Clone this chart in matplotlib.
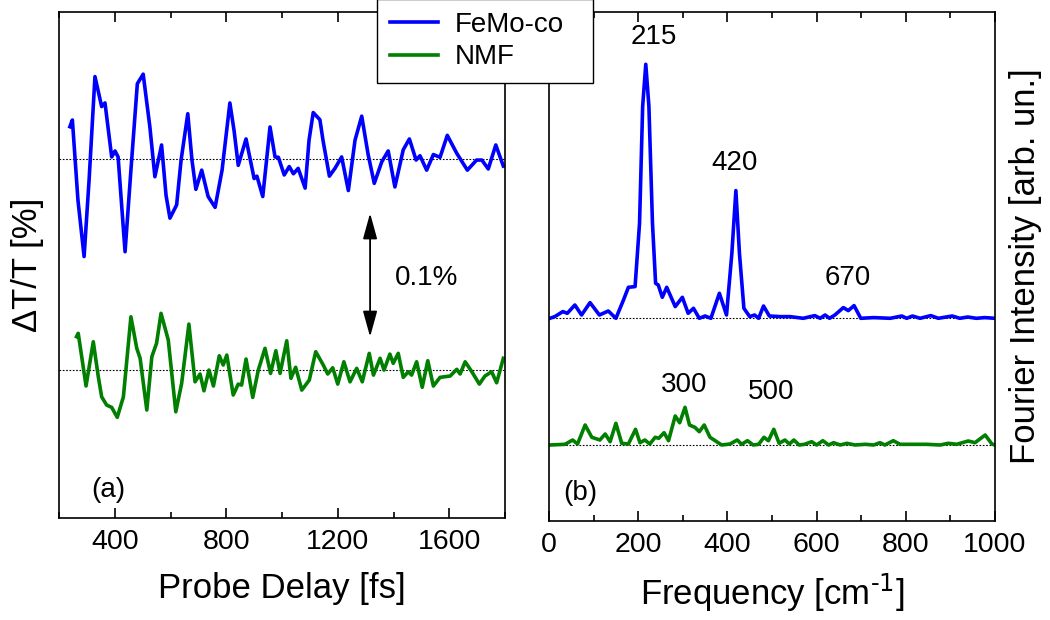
import matplotlib
matplotlib.use("Agg")
import matplotlib.pyplot as plt
from matplotlib.ticker import MultipleLocator, NullLocator

plt.rcParams['font.family'] = ['Liberation Sans', 'DejaVu Sans']
plt.rcParams['mathtext.default'] = 'regular'

# ---------------- data: time domain (fs, % dT/T) ----------------
delay_femoco = [239, 248, 268, 290, 308, 329, 353, 365, 389, 401, 412, 437, 458, 481, 502,
                526, 544, 568, 584, 598, 622, 638, 662, 677, 691, 712, 735, 760, 785, 813,
                828, 843, 871, 900, 910, 931, 957, 975, 987, 1008, 1026, 1041, 1058, 1083,
                1097, 1112, 1136, 1147, 1170, 1190, 1214, 1238, 1262, 1286, 1309, 1331,
                1358, 1381, 1405, 1435, 1457, 1481, 1495, 1519, 1543, 1567, 1593, 1627,
                1665, 1698, 1717, 1740, 1767, 1794]
dT_femoco = [0.0272, 0.0328, -0.034, -0.081, -0.017, 0.069, 0.044, 0.047, 0.002, 0.007,
             0.002, -0.077, -0.009, 0.063, 0.071, 0.027, -0.0145, 0.012, -0.030, -0.049,
             -0.038, -0.0006, 0.038, -0.0006, -0.025, -0.009, -0.031, -0.040, -0.009,
             0.047, 0.024, -0.005, 0.017, -0.016, -0.014, -0.031, 0.027, 0.002, 0.0017,
             -0.013, -0.006, -0.012, -0.0075, -0.024, 0.016, 0.039, 0.033, 0.016, -0.014,
             -0.0075, 0.002, -0.026, 0.016, 0.036, 0.004, -0.020, -0.002, 0.007, -0.023,
             0.008, 0.017, -0.0006, 0.003, -0.009, 0.004, 0.0017, 0.020, 0.005, -0.009,
             -0.0006, -0.0006, -0.008, 0.012, -0.0056]

delay_nmf = [263, 269, 297, 323, 341, 353, 371, 389, 409, 431, 458, 479, 491, 515, 533,
             550, 566, 592, 619, 640, 666, 688, 706, 720, 738, 754, 775, 789, 802, 825,
             843, 855, 871, 895, 915, 939, 959, 978, 993, 1017, 1032, 1049, 1071, 1098,
             1121, 1148, 1164, 1182, 1200, 1222, 1244, 1268, 1288, 1313, 1328, 1352, 1366,
             1387, 1399, 1417, 1435, 1453, 1465, 1483, 1503, 1523, 1543, 1567, 1603, 1627,
             1639, 1657, 1681, 1708, 1728, 1752, 1770, 1794]
dT_nmf = [0.0278, 0.0306, -0.0133, 0.0236, -0.0056, -0.0223, -0.0292, -0.0311, -0.0394,
          -0.0223, 0.0444, 0.0181, 0.0098, -0.0333, 0.0111, 0.0223, 0.0473, 0.025, -0.0348,
          -0.0111, 0.0383, -0.0098, -0.0033, -0.0173, 0.0, -0.0133, 0.0119, 0.0042, 0.0125,
          -0.0208, -0.0117, -0.0125, 0.0092, -0.0228, 0.0, 0.0181, -0.0028, 0.0161, -0.0028,
          0.0244, -0.0069, 0.0023, -0.0167, -0.0083, 0.0153, 0.0042, -0.0033, 0.0019,
          -0.0117, 0.0069, -0.0098, 0.0014, -0.0098, 0.0139, -0.0042, 0.0098, 0.0, 0.0133,
          0.0056, 0.0139, -0.0061, -0.0014, -0.0042, 0.0069, -0.0144, 0.0078, -0.0133,
          -0.0061, -0.005, 0.0006, -0.0033, 0.0069, -0.0014, -0.0117, -0.005, -0.0014,
          -0.0106, 0.0098]

# ---------------- data: Fourier spectra (cm^-1, arb. un.) ----------------
freq_femoco = [2, 13, 31, 41, 58, 73, 92, 113, 133, 150, 167, 178, 193, 203, 210, 217, 224,
               232, 239, 245, 254, 264, 283, 299, 312, 324, 337, 350, 363, 382, 398, 410,
               419, 427, 437, 450, 461, 470, 481, 494, 518, 540, 570, 596, 608, 619, 629,
               641, 660, 671, 684, 699, 728, 765, 791, 802, 815, 832, 856, 873, 904, 921,
               939, 958, 977, 1000]
amp_femoco = [0, 0.017, 0.067, 0.05, 0.133, 0.033, 0.157, 0.033, 0.073, 0, 0.183, 0.31,
              0.317, 0.95, 2.12, 2.54, 2.12, 0.95, 0.35, 0.333, 0.21, 0.31, 0.117, 0.21,
              0.05, 0.1, 0, 0.023, 0, 0.25, 0.033, 0.65, 1.277, 0.65, 0.1, 0.017, 0.033,
              0, 0.123, 0.023, 0.017, 0.017, 0, 0.027, 0, 0.033, 0, 0.033, 0.107, 0.077,
              0.127, 0, 0.007, 0, 0.023, 0, 0.023, 0, 0.027, 0, 0.023, 0, 0.013, 0,
              0.007, 0]

freq_nmf = [2, 36, 53, 64, 81, 96, 114, 126, 137, 150, 163, 178, 194, 204, 215, 226, 238,
            246, 258, 268, 283, 293, 305, 315, 327, 337, 348, 361, 376, 387, 406, 422, 432,
            445, 458, 470, 482, 492, 504, 516, 529, 539, 549, 561, 573, 589, 600, 614, 627,
            638, 653, 668, 686, 709, 728, 742, 753, 772, 787, 817, 847, 877, 895, 914, 940,
            955, 978, 993, 1000]
amp_nmf = [0, 0.007, 0.05, 0.01, 0.2, 0.077, 0.05, 0.11, 0.033, 0.217, 0.017, 0.01, 0.157,
           0.023, 0.05, 0.01, 0.077, 0.067, 0.123, 0.043, 0.29, 0.223, 0.377, 0.2, 0.177,
           0.133, 0.2, 0.077, 0.033, 0, 0.01, 0.05, 0.007, 0.043, 0, 0.007, 0.077, 0.043,
           0.157, 0.017, 0.05, 0.01, 0.05, 0, 0.007, 0.033, 0, 0.043, 0, 0.023, 0, 0.017,
           0, 0.007, 0, 0.023, 0, 0.043, 0.007, 0.007, 0.007, 0, 0.017, 0.007, 0.04,
           0.023, 0.1, 0.01, 0]

peak_labels = ['215', '420', '670', '300', '500']
peak_label_x = [235, 417, 670, 302, 499]
peak_label_y = [4.84, 3.58, 2.43, 1.36, 1.29]

series_names = ['FeMo-co', 'NMF']

# ---------------- styling / layout ----------------
BLUE = '#0000ff'
GREEN = '#007f00'
LW = 2.6
off_t_blue, off_t_green = 0.2989, 0.1233
off_f_blue, off_f_green = 2.027, 0.76

fig = plt.figure(figsize=(10.5, 6.2), dpi=100)
ax1 = fig.add_axes([59/1050, 102/620, 446/1050, 506/620])
ax2 = fig.add_axes([549/1050, 99/620, 446/1050, 509/620])

# ---- panel (a)
ax1.plot(delay_femoco, [v + off_t_blue for v in dT_femoco], color=BLUE, lw=LW,
         solid_joinstyle='round', label=series_names[0])
ax1.plot(delay_nmf, [v + off_t_green for v in dT_nmf], color=GREEN, lw=LW,
         solid_joinstyle='round', label=series_names[1])
ax1.axhline(off_t_blue, color='black', lw=0.8, ls=(0, (1.5, 1.5)), zorder=0)
ax1.axhline(off_t_green, color='black', lw=0.8, ls=(0, (1.5, 1.5)), zorder=0)
ax1.set_xlim(200, 1800)
ax1.set_ylim(0, 0.4217)
ax1.xaxis.set_major_locator(MultipleLocator(400))
ax1.xaxis.set_minor_locator(MultipleLocator(200))
ax1.yaxis.set_major_locator(NullLocator())
ax1.set_xlabel('Probe Delay [fs]', fontsize=25, labelpad=12)
ax1.set_ylabel('ΔT/T [%]', fontsize=25, labelpad=11)
ax1.annotate('', xy=(1316, 0.254), xytext=(1316, 0.151),
             arrowprops=dict(arrowstyle='<|-|>,head_length=1.05,head_width=0.29',
                             mutation_scale=15, color='black', lw=1.3,
                             shrinkA=0, shrinkB=0))
ax1.text(1405, 0.2, '0.1%', fontsize=20, va='center', ha='left')
ax1.text(0.11, 0.055, '(a)', transform=ax1.transAxes, fontsize=20, ha='center', va='center')

# ---- panel (b)
ax2.plot(freq_femoco, [v + off_f_blue for v in amp_femoco], color=BLUE, lw=LW,
         solid_joinstyle='round')
ax2.plot(freq_nmf, [v + off_f_green for v in amp_nmf], color=GREEN, lw=LW,
         solid_joinstyle='round')
ax2.axhline(off_f_blue, color='black', lw=0.8, ls=(0, (1.5, 1.5)), zorder=0)
ax2.axhline(off_f_green, color='black', lw=0.8, ls=(0, (1.5, 1.5)), zorder=0)
ax2.set_xlim(0, 1000)
ax2.set_ylim(0, 5.09)
ax2.xaxis.set_major_locator(MultipleLocator(200))
ax2.xaxis.set_minor_locator(MultipleLocator(100))
ax2.yaxis.set_major_locator(NullLocator())
ax2.set_xlabel(r'Frequency [cm$^{\text{-1}}$]', fontsize=25, labelpad=10)
ax2.yaxis.set_label_position('right')
ax2.set_ylabel('Fourier Intensity [arb. un.]', fontsize=25, labelpad=10)
for lab, x, y in zip(peak_labels, peak_label_x, peak_label_y):
    ax2.text(x, y, lab, fontsize=20, ha='center', va='center')
ax2.text(0.07, 0.055, '(b)', transform=ax2.transAxes, fontsize=20, ha='center', va='center')

for ax in (ax1, ax2):
    for s in ax.spines.values():
        s.set_linewidth(1.2)
        s.set_color('black')
    ax.tick_params(axis='x', which='both', direction='in', top=True, bottom=True,
                   labelsize=20.5, pad=8, width=1.2)
    ax.tick_params(axis='x', which='major', length=7)
    ax.tick_params(axis='x', which='minor', length=4)
    ax.tick_params(axis='y', which='both', left=False, right=False)

handles, labels = ax1.get_legend_handles_labels()
leg = fig.legend(handles, labels, loc='upper left', mode='expand',
                 bbox_to_anchor=(377/1050, 1.0 + 1/620, 216/1050, 0.0), fontsize=20,
                 frameon=True, fancybox=False, framealpha=1, edgecolor='black',
                 handlelength=1.75, handletextpad=0.6, labelspacing=0.25,
                 borderpad=0.45, borderaxespad=0)
leg.get_frame().set_linewidth(1.0)
leg.set_zorder(10)

fig.savefig('out.png', dpi=100)
